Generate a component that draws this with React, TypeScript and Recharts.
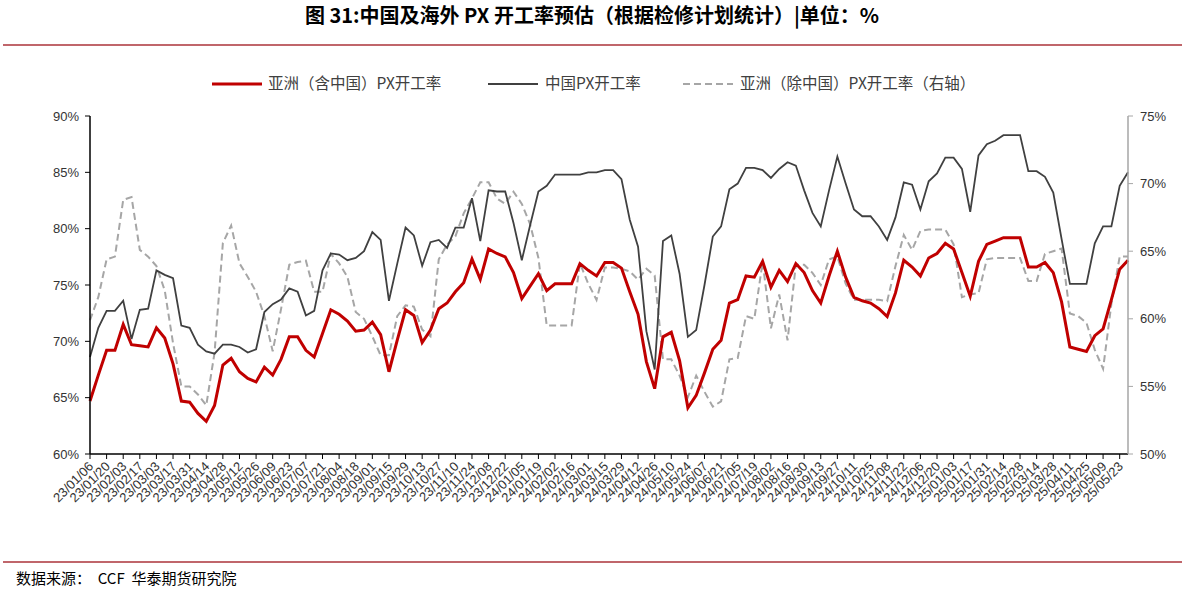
import { LineChart, Line, XAxis, YAxis } from "recharts";

const dates = [
  "23/01/06", "23/01/13", "23/01/20", "23/01/27", "23/02/03", "23/02/10", "23/02/17", "23/02/24",
  "23/03/03", "23/03/10", "23/03/17", "23/03/24", "23/03/31", "23/04/07", "23/04/14", "23/04/21",
  "23/04/28", "23/05/05", "23/05/12", "23/05/19", "23/05/26", "23/06/02", "23/06/09", "23/06/16",
  "23/06/23", "23/06/30", "23/07/07", "23/07/14", "23/07/21", "23/07/28", "23/08/04", "23/08/11",
  "23/08/18", "23/08/25", "23/09/01", "23/09/08", "23/09/15", "23/09/22", "23/09/29", "23/10/06",
  "23/10/13", "23/10/20", "23/10/27", "23/11/03", "23/11/10", "23/11/17", "23/11/24", "23/12/01",
  "23/12/08", "23/12/15", "23/12/22", "23/12/29",
  "24/01/05", "24/01/12", "24/01/19", "24/01/26", "24/02/02", "24/02/09", "24/02/16", "24/02/23",
  "24/03/01", "24/03/08", "24/03/15", "24/03/22", "24/03/29", "24/04/05", "24/04/12", "24/04/19",
  "24/04/26", "24/05/03", "24/05/10", "24/05/17", "24/05/24", "24/05/31", "24/06/07", "24/06/14",
  "24/06/21", "24/06/28", "24/07/05", "24/07/12", "24/07/19", "24/07/26", "24/08/02", "24/08/09",
  "24/08/16", "24/08/23", "24/08/30", "24/09/06", "24/09/13", "24/09/20", "24/09/27", "24/10/04",
  "24/10/11", "24/10/18", "24/10/25", "24/11/01", "24/11/08", "24/11/15", "24/11/22", "24/11/29",
  "24/12/06", "24/12/13", "24/12/20", "24/12/27",
  "25/01/03", "25/01/10", "25/01/17", "25/01/24", "25/01/31", "25/02/07", "25/02/14", "25/02/21",
  "25/02/28", "25/03/07", "25/03/14", "25/03/21", "25/03/28", "25/04/04", "25/04/11", "25/04/18",
  "25/04/25", "25/05/02", "25/05/09", "25/05/16", "25/05/23", "25/05/30",
];

// 亚洲（含中国）PX开工率, left axis
const asiaAll = [
  64.7, 67.0, 69.2, 69.2, 71.5, 69.7, 69.6, 69.5, 71.2, 70.3, 68.0, 64.7, 64.6, 63.6, 62.9, 64.3,
  67.9, 68.5, 67.3, 66.7, 66.4, 67.7, 67.0, 68.4, 70.4, 70.4, 69.2, 68.6, 70.7, 72.8, 72.4, 71.8,
  70.9, 71.0, 71.7, 70.6, 67.3, 70.1, 72.8, 72.3, 69.9, 71.0, 72.9, 73.4, 74.4, 75.2, 77.3, 75.5,
  78.2, 77.8, 77.5, 76.1, 73.8, 74.9, 76.0, 74.5, 75.1, 75.1, 75.1, 76.9, 76.3, 75.8, 77.0, 77.0,
  76.5, 74.4, 72.4, 68.2, 65.8, 70.4, 70.8, 68.3, 64.1, 65.2, 67.2, 69.3, 70.1, 73.4, 73.7, 75.8,
  75.7, 77.1, 74.8, 76.3, 75.3, 76.9, 76.1, 74.5, 73.4, 75.8, 78.0, 75.7, 73.9, 73.6, 73.4, 72.9,
  72.2, 74.3, 77.2, 76.6, 75.8, 77.4, 77.8, 78.7, 78.2, 76.1, 74.0, 77.1, 78.6, 78.9, 79.2, 79.2,
  79.2, 76.6, 76.6, 77.0, 76.1, 73.5, 69.5, 69.3, 69.1, 70.5, 71.1, 73.7, 76.4, 77.2,
];

// 中国PX开工率, left axis
const china = [
  68.6, 71.2, 72.7, 72.7, 73.6, 70.2, 72.8, 72.9, 76.3, 75.9, 75.6, 71.4, 71.2, 69.7, 69.1, 68.9,
  69.7, 69.7, 69.5, 69.0, 69.3, 72.6, 73.3, 73.7, 74.7, 74.4, 72.3, 72.7, 76.3, 77.8, 77.7, 77.2,
  77.4, 78.0, 79.7, 79.0, 73.6, 76.9, 80.1, 79.4, 76.7, 78.8, 79.0, 78.3, 80.1, 80.1, 82.7, 78.9,
  83.4, 83.3, 83.3, 80.5, 77.2, 80.3, 83.3, 83.8, 84.8, 84.8, 84.8, 84.8, 85.0, 85.0, 85.2, 85.2,
  84.4, 80.8, 78.4, 70.9, 67.5, 78.9, 79.4, 76.0, 70.4, 71.0, 75.0, 79.3, 80.2, 83.5, 84.0, 85.4,
  85.4, 85.2, 84.5, 85.3, 85.9, 85.6, 83.4, 81.4, 80.2, 83.4, 86.4, 84.0, 81.7, 81.1, 81.1, 80.2,
  79.0, 81.0, 84.1, 83.9, 81.7, 84.2, 84.9, 86.3, 86.3, 85.3, 81.5, 86.5, 87.5, 87.8, 88.3, 88.3,
  88.3, 85.1, 85.1, 84.6, 83.2, 79.1, 75.1, 75.1, 75.1, 78.7, 80.2, 80.2, 83.8, 85.0,
];

// 亚洲（除中国）PX开工率, right axis
const asiaExChina = [
  59.9, 61.6, 64.4, 64.6, 68.8, 69.0, 65.1, 64.6, 63.9, 62.1, 58.2, 55.0, 55.0, 54.4, 53.6, 57.5,
  65.6, 66.9, 64.1, 63.1, 62.0, 60.2, 57.6, 60.7, 64.0, 64.2, 64.3, 62.0, 62.0, 64.8, 64.1, 63.1,
  60.5, 60.0, 58.7, 57.3, 57.3, 60.2, 61.0, 60.9, 59.2, 58.7, 64.4, 65.5, 66.1, 67.8, 68.9, 70.1,
  70.1, 68.9, 68.5, 69.4, 68.5, 67.0, 64.5, 59.5, 59.5, 59.5, 59.5, 64.1, 62.6, 61.4, 63.8, 63.8,
  63.7, 63.5, 62.9, 63.7, 63.2, 57.0, 57.0, 55.8, 54.2, 55.8, 54.6, 53.5, 53.9, 57.0, 57.1, 60.2,
  60.0, 64.2, 59.3, 61.8, 58.4, 64.0, 64.0, 63.4, 62.5, 64.4, 64.6, 62.6, 61.4, 61.4, 61.4, 61.4,
  61.3, 63.9, 66.2, 65.1, 66.5, 66.6, 66.6, 66.6, 65.5, 61.6, 61.8, 61.9, 64.4, 64.5, 64.5, 64.5,
  64.5, 62.8, 62.8, 64.8, 65.0, 65.2, 60.4, 60.2, 59.7, 57.7, 56.3, 61.1, 64.6, 64.6,
];

const leftTicks = [60, 65, 70, 75, 80, 85, 90];
const rightTicks = [50, 55, 60, 65, 70, 75];

const data = dates.map((d, i) => ({
  date: d,
  asiaAll: asiaAll[i],
  china: china[i],
  asiaExChina: asiaExChina[i],
}));

const latin = "'Liberation Sans', Arial, sans-serif";
const cjk = "'Noto Sans CJK SC', sans-serif";

const DateTick = ({ x, y, payload }: any) => (
  <g transform={`translate(${x + 1},${y + 3})`}>
    <text textAnchor="end" transform="rotate(-45)" dy="0.35em" fontSize={13} fill="#333" fontFamily={latin}>
      {payload.value}
    </text>
  </g>
);

export default function App() {
  return (
    <div style={{ position: "absolute", left: 0, top: 0, width: 1185, height: 592, background: "#fff" }}>
      <svg width={1185} height={592} style={{ position: "absolute", left: 0, top: 0 }}>
        <text x={592} y={23} textAnchor="middle" fontSize={20} fontWeight="bold" fill="#000" fontFamily={cjk}>
          图 31:中国及海外 PX 开工率预估（根据检修计划统计）|单位：%
        </text>
        <line x1={3} x2={1182} y1={45} y2={45} stroke="#c0666b" strokeWidth={2} />
        <line x1={212} x2={262} y1={84} y2={84} stroke="#c00000" strokeWidth={3} />
        <text x={268} y={89} fontSize={15.5} fill="#404040" fontFamily={cjk}>亚洲（含中国）PX开工率</text>
        <line x1={488} x2={538} y1={84} y2={84} stroke="#404040" strokeWidth={2} />
        <text x={545} y={89} fontSize={15.5} fill="#404040" fontFamily={cjk}>中国PX开工率</text>
        <line x1={683} x2={733} y1={84} y2={84} stroke="#a6a6a6" strokeWidth={2} strokeDasharray="7 4" />
        <text x={740} y={89} fontSize={15.5} fill="#404040" fontFamily={cjk}>亚洲（除中国）PX开工率（右轴）</text>
        <line x1={3} x2={1182} y1={562} y2={562} stroke="#c0666b" strokeWidth={2} />
        <text x={16} y={584} fontSize={15} fill="#000" fontFamily={cjk} style={{ whiteSpace: "pre" }}>
          数据来源：  CCF  华泰期货研究院
        </text>
      </svg>
      <div style={{ position: "absolute", left: 0, top: 0 }}>
        <LineChart width={1185} height={592} data={data} margin={{ top: 116, right: 7, bottom: 58, left: 30 }}>
          <XAxis
            dataKey="date"
            interval={1}
            height={80}
            tick={<DateTick />}
            tickSize={5}
            axisLine={{ stroke: "#000", strokeWidth: 1.5 }}
            tickLine={{ stroke: "#000" }}
          />
          <YAxis
            yAxisId="left"
            domain={[60, 90]}
            ticks={leftTicks}
            width={60}
            tickFormatter={(v) => `${v}%`}
            tick={{ fontSize: 13, fill: "#333", fontFamily: latin }}
            tickSize={5}
            tickMargin={6}
            axisLine={{ stroke: "#000", strokeWidth: 1.5 }}
            tickLine={{ stroke: "#000" }}
          />
          <YAxis
            yAxisId="right"
            orientation="right"
            domain={[50, 75]}
            ticks={rightTicks}
            width={50}
            tickFormatter={(v) => `${v}%`}
            tick={{ fontSize: 13, fill: "#333", fontFamily: latin }}
            tickSize={5}
            tickMargin={7}
            axisLine={{ stroke: "#a6a6a6", strokeWidth: 1.5 }}
            tickLine={{ stroke: "#a6a6a6" }}
          />
          <Line yAxisId="right" dataKey="asiaExChina" stroke="#a6a6a6" strokeWidth={2} strokeDasharray="7 4"
            dot={false} isAnimationActive={false} />
          <Line yAxisId="left" dataKey="china" stroke="#404040" strokeWidth={1.8} dot={false} isAnimationActive={false} />
          <Line yAxisId="left" dataKey="asiaAll" stroke="#c00000" strokeWidth={3} dot={false} isAnimationActive={false} />
        </LineChart>
      </div>
    </div>
  );
}
